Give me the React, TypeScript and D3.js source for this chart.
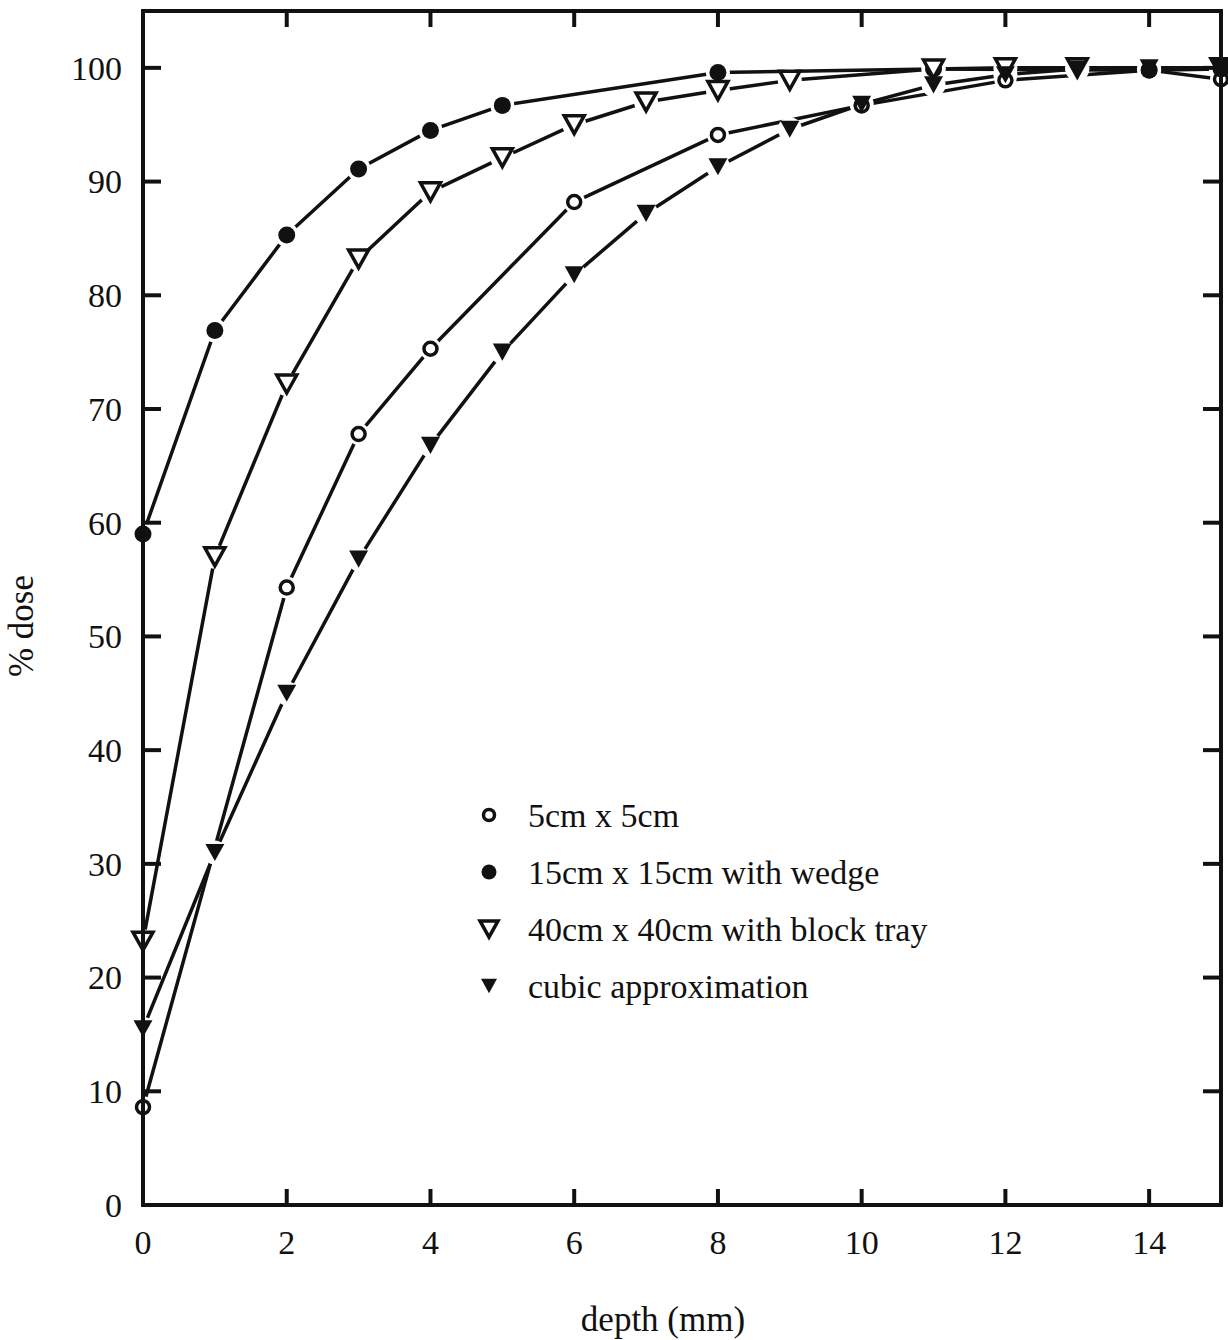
import React, { useEffect, useRef } from "react";
import * as d3 from "d3";

// depth (mm) and % dose
const depth5 = [0, 2, 3, 4, 6, 8, 10, 12, 14, 15];
const dose5 = [8.6, 54.3, 67.8, 75.3, 88.2, 94.1, 96.7, 98.9, 99.8, 99.0];

const depth15 = [0, 1, 2, 3, 4, 5, 8, 11, 14, 15];
const dose15 = [59, 76.9, 85.3, 91.1, 94.5, 96.7, 99.6, 99.9, 99.8, 99.9];

const depth40 = [0, 1, 2, 3, 4, 5, 6, 7, 8, 9, 11, 12, 13, 15];
const dose40 = [23.2, 57, 72.2, 83.2, 89.1, 92.1, 95, 97, 98, 98.9, 99.9, 100, 100, 100];

const depthCubic = [0, 1, 2, 3, 4, 5, 6, 7, 8, 9, 10, 11, 12, 13, 14, 15];
const doseCubic = [15.5, 31, 45, 56.8, 66.8, 75, 81.8, 87.2, 91.3, 94.6, 96.8, 98.5, 99.4, 99.9, 100, 100];

const legendLabels = [
  "5cm x 5cm",
  "15cm x 15cm with wedge",
  "40cm x 40cm with block tray",
  "cubic approximation",
];
const markerKinds = ["openCircle", "dot", "openTri", "tri"];

const xTicks = [0, 2, 4, 6, 8, 10, 12, 14];
const yTicks = [0, 10, 20, 30, 40, 50, 60, 70, 80, 90, 100];

const FONT = "'Liberation Serif', 'Times New Roman', serif";

function triPath(s: number) {
  const h = s * 0.9;
  return `M${-s / 2},${-h / 2}L${s / 2},${-h / 2}L0,${h / 2}Z`;
}

function drawMarker(g: any, kind: string, x: number, y: number, big = true) {
  if (kind === "openCircle") {
    g.append("circle").attr("cx", x).attr("cy", y).attr("r", big ? 6.5 : 5.5)
      .attr("fill", "#fff").attr("stroke", "#111").attr("stroke-width", 3.5);
  } else if (kind === "dot") {
    g.append("circle").attr("cx", x).attr("cy", y).attr("r", big ? 8.5 : 7.5)
      .attr("fill", "#111");
  } else if (kind === "openTri") {
    g.append("path").attr("d", triPath(big ? 20 : 18))
      .attr("transform", `translate(${x},${y})`)
      .attr("fill", "#fff").attr("stroke", "#111").attr("stroke-width", 3.5);
  } else {
    g.append("path").attr("d", triPath(big ? 19 : 16))
      .attr("transform", `translate(${x},${y})`)
      .attr("fill", "#111");
  }
}

export default function App() {
  const ref = useRef<SVGSVGElement>(null);

  useEffect(() => {
    const svg = d3.select(ref.current);
    svg.selectAll("*").remove();

    const left = 143, right = 1221, top = 11, bottom = 1205;
    const x = d3.scaleLinear().domain([0, 15]).range([left, right]);
    const y = d3.scaleLinear().domain([0, 105]).range([bottom, top]);

    const series = [
      { xs: depth5, ys: dose5, kind: markerKinds[0] },
      { xs: depth15, ys: dose15, kind: markerKinds[1] },
      { xs: depth40, ys: dose40, kind: markerKinds[2] },
      { xs: depthCubic, ys: doseCubic, kind: markerKinds[3] },
    ];

    const line = d3.line<[number, number]>()
      .x((d) => x(d[0]))
      .y((d) => y(d[1]));

    const plot = svg.append("g");

    // lines
    series.forEach((s) => {
      const pts = s.xs.map((v, i) => [v, s.ys[i]] as [number, number]);
      plot.append("path").datum(pts).attr("d", line)
        .attr("fill", "none").attr("stroke", "#111").attr("stroke-width", 3.5)
        .attr("stroke-linejoin", "round");
    });

    // white halos so lines stop short of the markers
    series.forEach((s) => {
      s.xs.forEach((v, i) => {
        plot.append("circle").attr("cx", x(v)).attr("cy", y(s.ys[i]))
          .attr("r", s.kind === "openCircle" ? 11 : 12).attr("fill", "#fff");
      });
    });

    // markers
    series.forEach((s) => {
      s.xs.forEach((v, i) => drawMarker(plot, s.kind, x(v), y(s.ys[i])));
    });

    // frame
    const frame = svg.append("g").attr("stroke", "#111").attr("stroke-width", 4).attr("fill", "none");
    frame.append("rect").attr("x", left).attr("y", top)
      .attr("width", right - left).attr("height", bottom - top);

    const tl = 18;
    yTicks.forEach((t) => {
      if (t === 0) return;
      frame.append("line").attr("x1", left).attr("x2", left + tl)
        .attr("y1", y(t)).attr("y2", y(t));
      frame.append("line").attr("x1", right).attr("x2", right - tl)
        .attr("y1", y(t)).attr("y2", y(t));
    });
    xTicks.forEach((t) => {
      if (t === 0) return;
      frame.append("line").attr("x1", x(t)).attr("x2", x(t))
        .attr("y1", bottom).attr("y2", bottom - 16);
      frame.append("line").attr("x1", x(t)).attr("x2", x(t))
        .attr("y1", top).attr("y2", top + 16);
    });

    const txt = svg.append("g").attr("font-family", FONT).attr("fill", "#111");

    yTicks.forEach((t) => {
      txt.append("text").attr("x", left - 21).attr("y", y(t))
        .attr("dy", "0.35em").attr("text-anchor", "end")
        .attr("font-size", 34).text(t);
    });
    xTicks.forEach((t) => {
      txt.append("text").attr("x", x(t)).attr("y", bottom + 49)
        .attr("text-anchor", "middle").attr("font-size", 34).text(t);
    });

    txt.append("text").attr("x", 663).attr("y", 1331)
      .attr("text-anchor", "middle").attr("font-size", 35).text("depth (mm)");
    txt.append("text")
      .attr("transform", "translate(33,626) rotate(-90)")
      .attr("text-anchor", "middle").attr("font-size", 35).text("% dose");

    // legend
    const lg = svg.append("g");
    legendLabels.forEach((label, i) => {
      const cy = 815 + i * 57;
      drawMarker(lg, markerKinds[i], 489, cy, false);
      lg.append("text").attr("x", 528).attr("y", cy).attr("dy", "0.35em")
        .attr("font-family", FONT).attr("font-size", 34).attr("fill", "#111")
        .text(label);
    });
  }, []);

  return (
    <svg ref={ref} width={1228} height={1340}
      style={{ position: "absolute", left: 0, top: 0, background: "#fff" }} />
  );
}
